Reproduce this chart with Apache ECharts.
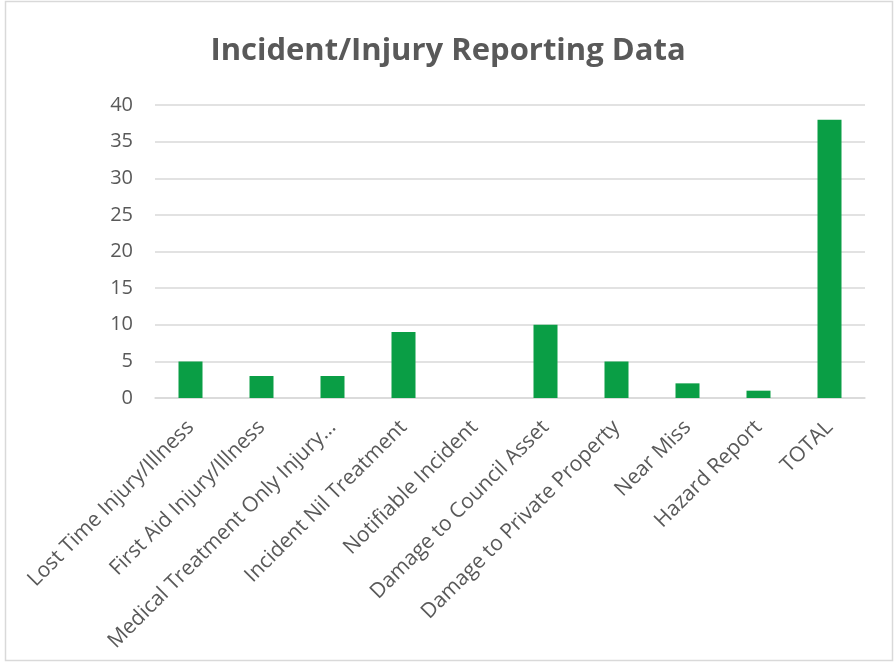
<!DOCTYPE html>
<html>
<head>
<meta charset="utf-8">
<script src="https://cdn.jsdelivr.net/npm/echarts@6/dist/echarts.min.js"></script>
<style>
  html, body { margin: 0; padding: 0; background: #fff; }
  #chart { width: 896px; height: 663px; }
</style>
</head>
<body>
<div id="chart"></div>
<script>
const categories = [
  "Lost Time Injury/Illness",
  "First Aid Injury/Illness",
  "Medical Treatment Only Injury/Illness",
  "Incident Nil Treatment",
  "Notifiable Incident",
  "Damage to Council Asset",
  "Damage to Private Property",
  "Near Miss",
  "Hazard Report",
  "TOTAL"
];
const counts = [5, 3, 3, 9, 0, 10, 5, 2, 1, 38];
const yTicks = { min: 0, max: 40, interval: 5 };

const textColor = "#595959";
const chart = echarts.init(document.getElementById("chart"));

chart.setOption({
  animation: false,
  title: {
    text: "Incident/Injury Reporting Data",
    left: "center",
    top: 31,
    textStyle: { fontFamily: "Open Sans", fontSize: 31, fontWeight: "bold", color: textColor }
  },
  graphic: [{
    type: "rect",
    shape: { x: 5.5, y: 1.5, width: 887, height: 659 },
    style: { fill: "none", stroke: "#d9d9d9", lineWidth: 1.5 },
    silent: true
  }],
  grid: { left: 155, right: 31, top: 105, bottom: 265, containLabel: false },
  xAxis: {
    type: "category",
    data: categories,
    axisLine: { lineStyle: { color: "#d9d9d9", width: 1.5 } },
    axisTick: { show: false },
    axisLabel: {
      rotate: 45,
      interval: 0,
      margin: 26,
      fontFamily: "Open Sans",
      fontSize: 21,
      color: textColor,
      formatter: function (v) {
        return v.length > 30 ? v.slice(0, 29) + "…" : v;
      }
    }
  },
  yAxis: {
    type: "value",
    min: yTicks.min,
    max: yTicks.max,
    interval: yTicks.interval,
    axisLine: { show: false },
    axisTick: { show: false },
    splitLine: { lineStyle: { color: "#d9d9d9", width: 1.5 } },
    axisLabel: { fontFamily: "Open Sans", fontSize: 20, color: textColor, margin: 22 }
  },
  series: [{
    type: "bar",
    data: counts,
    barWidth: 24,
    itemStyle: { color: "#0a9e45" }
  }]
});
</script>
</body>
</html>
